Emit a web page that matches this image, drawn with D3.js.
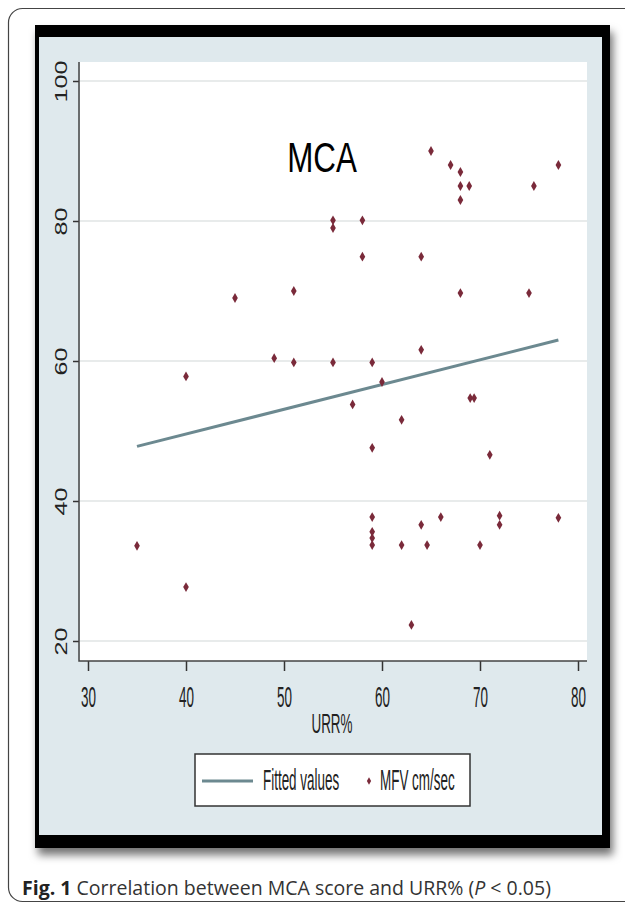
<!DOCTYPE html>
<html>
<head>
<meta charset="utf-8">
<script src="https://cdn.jsdelivr.net/npm/d3@7"></script>
<style>
  body { margin: 0; background: #fff; }
  svg { display: block; }
</style>
</head>
<body>
<div id="chart"></div>
<script>
// URR% (x) and MFV cm/sec (y)
const urr = [35, 40, 40, 45, 49, 51, 51, 55, 55, 55, 57, 58, 58, 59, 59, 59, 59, 59, 59,
             60, 62, 62, 63, 64, 64, 64, 64.6, 65, 66, 67, 68, 68, 68, 68, 68.9, 69, 69.4,
             70, 71, 72, 72, 75, 75.5, 78, 78];
const mfv = [33.6, 57.8, 27.7, 69, 60.4, 70, 59.8, 80.1, 79, 59.8, 53.8, 80.1, 74.9, 59.8, 47.6, 37.7, 35.6, 34.7, 33.7,
             57, 51.6, 33.7, 22.3, 74.9, 61.6, 36.6, 33.7, 90, 37.7, 88, 87, 85, 83, 69.7, 85, 54.7, 54.7,
             33.7, 46.6, 37.9, 36.6, 69.7, 85, 88, 37.6];

// fitted values line end points
const fitUrr = [35, 78];
const fitMfv = [47.8, 63.0];

const xTicks = [30, 40, 50, 60, 70, 80];
const yTicks = [20, 40, 60, 80, 100];
const legendLabels = ["Fitted values", "MFV cm/sec"];

const W = 625, H = 904;
const markerColor = "#7a2a3a";
const fitColor = "#6c8990";
const stataFont = "'Liberation Sans', Arial, sans-serif";

const svg = d3.select("#chart").append("svg")
    .attr("width", W)
    .attr("height", H);

const defs = svg.append("defs");
defs.append("filter").attr("id", "shadow")
    .attr("x", "-5%").attr("y", "-5%").attr("width", "115%").attr("height", "115%")
  .append("feDropShadow")
    .attr("dx", 3).attr("dy", 7)
    .attr("stdDeviation", 4)
    .attr("flood-color", "#000")
    .attr("flood-opacity", 0.55);

// outer rounded frame of the figure
svg.append("rect")
    .attr("x", 8.5).attr("y", 8.5)
    .attr("width", 680).attr("height", 893)
    .attr("rx", 14)
    .attr("fill", "none")
    .attr("stroke", "#444")
    .attr("stroke-width", 1.2);

// black picture frame + graph region
svg.append("rect")
    .attr("x", 35).attr("y", 25)
    .attr("width", 575).attr("height", 823)
    .attr("fill", "#000")
    .attr("filter", "url(#shadow)");

svg.append("rect")
    .attr("x", 39).attr("y", 37)
    .attr("width", 563).attr("height", 798)
    .attr("fill", "#dfe9ed");

// plot region
svg.append("rect")
    .attr("x", 80).attr("y", 62)
    .attr("width", 507).attr("height", 599)
    .attr("fill", "#fff");

const x = d3.scaleLinear([30, 80], [88, 578]);
const y = d3.scaleLinear([20, 100], [641, 81]);

// gridlines
svg.append("g")
    .selectAll("line")
    .data(yTicks)
    .join("line")
    .attr("x1", 80).attr("x2", 587)
    .attr("y1", d => y(d)).attr("y2", d => y(d))
    .attr("stroke", "#e8ebeb")
    .attr("stroke-width", 2);

// x axis
const sx = 0.84, sy = 1.88;
const xAxis = svg.append("g")
    .attr("transform", "translate(0,661)")
    .call(d3.axisBottom(x).tickValues(xTicks).tickSize(10).tickSizeOuter(0));
xAxis.select(".domain").remove();
xAxis.selectAll(".tick line").attr("stroke", "#333").attr("stroke-width", 1.5);
xAxis.selectAll(".tick text")
    .attr("y", 46 / sy)
    .attr("dy", null)
    .attr("transform", `scale(${sx},${sy})`)
    .attr("x", 0)
    .attr("fill", "#222")
    .style("font", `16px ${stataFont}`);

// y axis
const yAxis = svg.append("g")
    .attr("transform", "translate(79,0)")
    .call(d3.axisLeft(y).tickValues(yTicks).tickSize(6).tickSizeOuter(0));
yAxis.select(".domain").remove();
yAxis.selectAll(".tick line").attr("stroke", "#333").attr("stroke-width", 1.5);
yAxis.selectAll(".tick text")
    .attr("x", 0).attr("y", 0).attr("dy", null)
    .attr("text-anchor", "middle")
    .attr("transform", "translate(-12,0) rotate(-90) scale(1.57,1.05)")
    .attr("fill", "#222")
    .style("font", `16px ${stataFont}`);

// axis lines
svg.append("path")
    .attr("d", "M79,62V661H587")
    .attr("fill", "none")
    .attr("stroke", "#444")
    .attr("stroke-width", 1.5);

// fitted line
svg.append("path")
    .datum(d3.zip(fitUrr, fitMfv))
    .attr("d", d3.line().x(d => x(d[0])).y(d => y(d[1])))
    .attr("fill", "none")
    .attr("stroke", fitColor)
    .attr("stroke-width", 3);

// scatter
const diamond = d3.symbol(d3.symbolDiamond, 28);
svg.append("g")
    .attr("fill", markerColor)
    .selectAll("path")
    .data(d3.zip(urr, mfv))
    .join("path")
    .attr("transform", d => `translate(${x(d[0])},${y(d[1])})`)
    .attr("d", diamond);

// title inside the plot
svg.append("text")
    .attr("transform", "translate(322,172) scale(0.98,1.32)")
    .attr("text-anchor", "middle")
    .attr("fill", "#000")
    .style("font", `32px ${stataFont}`)
    .text("MCA");

// x title
svg.append("text")
    .attr("transform", `translate(332,733) scale(${sx},1.75)`)
    .attr("text-anchor", "middle")
    .attr("fill", "#222")
    .style("font", `16px ${stataFont}`)
    .text("URR%");

// legend
const legend = svg.append("g");
legend.append("rect")
    .attr("x", 195).attr("y", 754)
    .attr("width", 275).attr("height", 52)
    .attr("fill", "#fff")
    .attr("stroke", "#333")
    .attr("stroke-width", 1.5);
legend.append("line")
    .attr("x1", 202).attr("x2", 253)
    .attr("y1", 781).attr("y2", 781)
    .attr("stroke", fitColor)
    .attr("stroke-width", 3);
legend.append("path")
    .attr("transform", "translate(369,781)")
    .attr("d", d3.symbol(d3.symbolDiamond, 16))
    .attr("fill", markerColor);
legend.selectAll("text.lab")
    .data(legendLabels)
    .join("text")
    .attr("class", "lab")
    .attr("transform", (d, i) => `translate(${i === 0 ? 263 : 380},790) scale(${sx},${sy})`)
    .attr("fill", "#222")
    .style("font", `16px ${stataFont}`)
    .text(d => d);

// caption
const cap = svg.append("text")
    .attr("x", 22).attr("y", 895)
    .attr("fill", "#333")
    .style("font", "19.5px 'Open Sans', 'Noto Sans', sans-serif");
cap.append("tspan").attr("font-weight", "bold").attr("fill", "#222").text("Fig. 1");
cap.append("tspan").text(" Correlation between MCA score and URR% (");
cap.append("tspan").attr("font-style", "italic").text("P");
cap.append("tspan").text(" < 0.05)");
</script>
</body>
</html>
